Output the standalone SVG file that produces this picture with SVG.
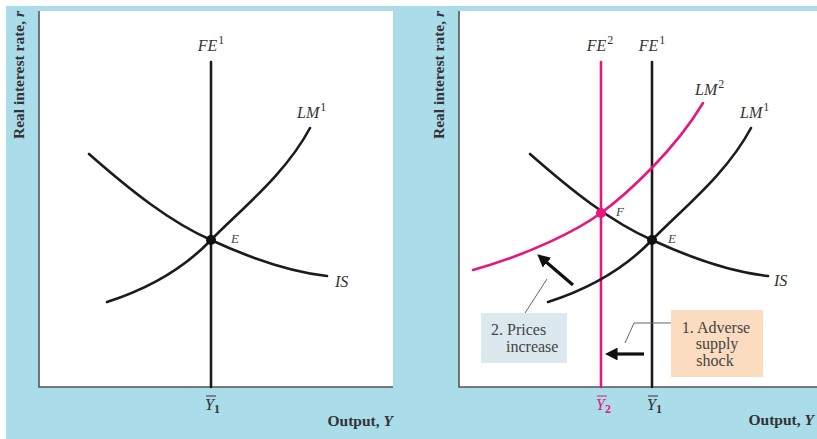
<svg xmlns="http://www.w3.org/2000/svg" width="817" height="439" viewBox="0 0 817 439">
<style>
.bg{fill:#abdcea}
.plot{fill:#ffffff}
.axis{stroke:#555;stroke-width:1.6;fill:none}
.curve{stroke:#1c1c1c;stroke-width:2.6;fill:none;stroke-linecap:round}
.pink{stroke:#e5197d;stroke-width:2.6;fill:none;stroke-linecap:round}
.lbl{font-family:"Liberation Serif","DejaVu Serif",serif;font-style:italic;font-size:16px;fill:#333}
.pt{font-family:"Liberation Serif","DejaVu Serif",serif;font-style:italic;font-size:13px;fill:#444}
.ax{font-family:"Liberation Serif","DejaVu Serif",serif;font-weight:bold;font-size:15.5px;fill:#333}
.box{font-family:"Liberation Serif","DejaVu Serif",serif;font-size:16px;fill:#444}
.sup{font-size:12px;font-style:normal}
.lead{stroke:#666;stroke-width:1;fill:none}
.arr{stroke:#111;stroke-width:3.2;fill:none}
</style>
<defs>
<marker id="ah" viewBox="0 0 10 10" refX="2" refY="5" markerWidth="4" markerHeight="4" markerUnits="strokeWidth" orient="auto">
<path d="M0,0 L10,5 L0,10 Z" fill="#111"/>
</marker>
</defs>
<rect x="0" y="0" width="817" height="439" fill="#ffffff"/>
<rect class="bg" x="6" y="6" width="811" height="433"/>
<g id="left-panel">
<rect class="plot" x="39" y="11" width="354" height="376"/>
<path class="axis" d="M39,11 V387 H393"/>
<text class="ax" transform="translate(24,75) rotate(-90)" text-anchor="middle">Real interest rate, <tspan font-style="italic">r</tspan></text>
<text class="ax" x="393" y="426" text-anchor="end">Output, <tspan font-style="italic">Y</tspan></text>
</g>
<g id="right-panel">
<rect class="plot" x="459" y="11" width="358" height="376"/>
<path class="axis" d="M459,11 V387 H817"/>
<text class="ax" transform="translate(444,75) rotate(-90)" text-anchor="middle">Real interest rate, <tspan font-style="italic">r</tspan></text>
<text class="ax" x="814" y="425" text-anchor="end">Output, <tspan font-style="italic">Y</tspan></text>
</g>
<g id="L-FE1">
<line class="curve" x1="211" y1="62" x2="211" y2="387" stroke-linecap="butt"/>
<text class="lbl" x="211" y="51" text-anchor="middle">FE<tspan class="sup" dx="1" dy="-7">1</tspan></text>
</g>
<g id="L-LM1">
<path class="curve" d="M107,302 C160,285 190,262 211,240 C240,210 285,175 310,128"/>
<text class="lbl" x="297" y="118">LM<tspan class="sup" dx="1" dy="-7">1</tspan></text>
</g>
<g id="L-IS">
<path class="curve" d="M89,154 C130,190 170,222 211,240 C250,258 290,272 327,276"/>
<text class="lbl" x="335" y="287">IS</text>
</g>
<g id="L-E">
<circle cx="211" cy="240" r="5" fill="#111"/>
<text class="pt" x="231" y="243">E</text>
</g>
<g id="L-Y1">
<line x1="206" y1="396" x2="216" y2="396" stroke="#333" stroke-width="1"/>
<text class="lbl" x="205" y="410">Y<tspan class="sup" dy="3" font-weight="bold">1</tspan></text>
</g>
<g id="R-FE2">
<line class="pink" x1="601" y1="62" x2="601" y2="387" stroke-linecap="butt"/>
<text class="lbl" x="600" y="51" text-anchor="middle">FE<tspan class="sup" dx="1" dy="-7">2</tspan></text>
</g>
<g id="R-FE1">
<line class="curve" x1="652" y1="62" x2="652" y2="387" stroke-linecap="butt"/>
<text class="lbl" x="652" y="51" text-anchor="middle">FE<tspan class="sup" dx="1" dy="-7">1</tspan></text>
</g>
<g id="R-LM2">
<path class="pink" d="M473,270 C530,254 578,230 601,213 C627,194 675,150 703,103"/>
<text class="lbl" x="695" y="95">LM<tspan class="sup" dx="1" dy="-7">2</tspan></text>
</g>
<g id="R-LM1">
<path class="curve" d="M548,302 C601,285 631,262 652,240 C681,210 726,175 751,128"/>
<text class="lbl" x="740" y="118">LM<tspan class="sup" dx="1" dy="-7">1</tspan></text>
</g>
<g id="R-IS">
<path class="curve" d="M530,154 C571,190 611,222 652,240 C691,258 731,272 768,276"/>
<text class="lbl" x="774" y="286">IS</text>
</g>
<g id="R-F">
<circle cx="601" cy="213" r="5" fill="#e5197d"/>
<text class="pt" x="616" y="216">F</text>
</g>
<g id="R-E">
<circle cx="652" cy="240" r="5" fill="#111"/>
<text class="pt" x="668" y="243">E</text>
</g>
<g id="R-Y2">
<line x1="597" y1="396" x2="607" y2="396" stroke="#e5197d" stroke-width="1"/>
<text class="lbl" x="596" y="410" style="fill:#e5197d">Y<tspan class="sup" dy="3" font-weight="bold">2</tspan></text>
</g>
<g id="R-Y1">
<line x1="648" y1="396" x2="658" y2="396" stroke="#333" stroke-width="1"/>
<text class="lbl" x="647" y="410">Y<tspan class="sup" dy="3" font-weight="bold">1</tspan></text>
</g>
<g id="box-prices">
<rect x="481" y="313" width="86" height="50" fill="#dbe8ee"/>
<text class="box" x="491" y="335">2. Prices</text>
<text class="box" x="506" y="352">increase</text>
</g>
<g id="box-shock">
<rect x="671" y="310" width="92" height="67" fill="#fbdcc0"/>
<text class="box" x="716" y="333" text-anchor="middle">1. Adverse</text>
<text class="box" x="717" y="349" text-anchor="middle">supply</text>
<text class="box" x="715" y="366" text-anchor="middle">shock</text>
</g>
<g id="connectors">
<line class="arr" x1="573" y1="285" x2="545" y2="261" marker-end="url(#ah)"/>
<line class="arr" x1="644" y1="354" x2="615" y2="354" marker-end="url(#ah)"/>
<path class="lead" d="M525,313 L547,279"/>
<path class="lead" d="M671,323 H634 L625,343"/>
</g>
</svg>
